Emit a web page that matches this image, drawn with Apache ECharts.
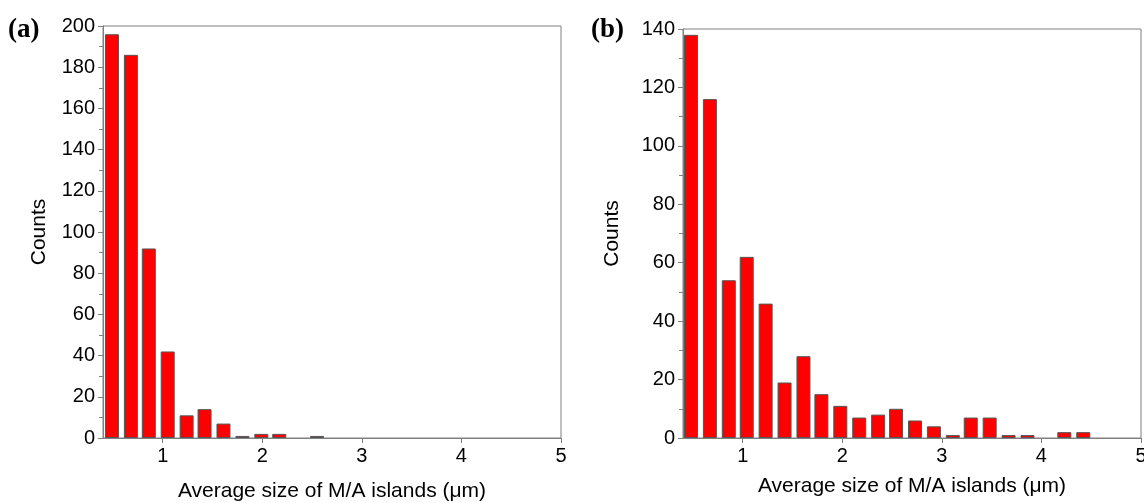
<!DOCTYPE html>
<html>
<head>
<meta charset="utf-8">
<script src="https://cdn.jsdelivr.net/npm/echarts@6/dist/echarts.min.js"></script>
<style>
html,body{margin:0;padding:0;background:#fff;}
#chart{width:1144px;height:503px;}
</style>
</head>
<body>
<div id="chart"></div>
<script>
// Bin centres (µm)
const binCentersA = [0.49, 0.68, 0.86, 1.05, 1.24, 1.42, 1.61, 1.80, 1.99, 2.17, 2.36, 2.55];
const countsA     = [196, 186, 92, 42, 11, 14, 7, 1, 2, 2, 0, 1];
const binCentersB = [0.48, 0.67, 0.86, 1.04, 1.23, 1.42, 1.61, 1.79, 1.98, 2.17, 2.36, 2.54, 2.73, 2.92, 3.11, 3.29, 3.48, 3.67, 3.86, 4.04, 4.23, 4.42];
const countsB     = [138, 116, 54, 62, 46, 19, 28, 15, 11, 7, 8, 10, 6, 4, 1, 7, 7, 1, 1, 0, 2, 2];
const xTickValues = [1, 2, 3, 4, 5];
const xTitle = 'Average size of M/A islands (μm)';
const yTitle = 'Counts';
const panelLabels = ['(a)', '(b)'];

const FONT = 'Liberation Sans, Arial, sans-serif';
const AXIS = '#808080';

// empty bins (count 0) are drawn as no bar at all
function pairs(xs, ys){ return xs.map((x,i)=> ys[i] === 0 ? [x, null] : [x, ys[i]]); }

function xAxisCfg(gridIndex, gap){
  return {
    type:'value', gridIndex, min:0.4, max:5,
    name:xTitle, nameLocation:'middle', nameGap:gap,
    nameTextStyle:{fontFamily:FONT, fontSize:21, color:'#000'},
    axisLine:{show:true, lineStyle:{color:AXIS, width:1}},
    axisTick:{show:true, length:5, customValues:xTickValues, lineStyle:{color:AXIS}},
    axisLabel:{customValues:xTickValues, fontFamily:FONT, fontSize:20, color:'#000', margin:8},
    splitLine:{show:false}
  };
}
function yAxisCfg(gridIndex, max, gap){
  return {
    type:'value', gridIndex, min:0, max:max, interval:20,
    name:yTitle, nameLocation:'middle', nameGap:gap,
    nameTextStyle:{fontFamily:FONT, fontSize:21, color:'#000'},
    axisLine:{show:true, lineStyle:{color:AXIS, width:1}},
    axisTick:{show:true, length:5, lineStyle:{color:AXIS}},
    minorTick:{show:true, splitNumber:2, length:4, lineStyle:{color:AXIS}},
    axisLabel:{fontFamily:FONT, fontSize:20, color:'#000', margin:8},
    splitLine:{show:false}
  };
}
function barSeries(idx, xs, ys){
  return {
    type:'bar', xAxisIndex:idx, yAxisIndex:idx,
    data:pairs(xs, ys), barWidth:14,
    itemStyle:{color:'#ff0000', borderColor:'#555555', borderWidth:1},
    silent:true
  };
}

const chart = echarts.init(document.getElementById('chart'), null, {renderer:'canvas'});
chart.setOption({
  animation:false,
  backgroundColor:'#fff',
  grid:[
    {left:103, top:26, width:458, height:412, show:true, borderColor:AXIS, borderWidth:1, backgroundColor:'transparent', outerBoundsMode:'none', containLabel:false},
    {left:683, top:29, width:458, height:409, show:true, borderColor:AXIS, borderWidth:1, backgroundColor:'transparent', outerBoundsMode:'none', containLabel:false}
  ],
  xAxis:[xAxisCfg(0, 43), xAxisCfg(1, 38)],
  yAxis:[yAxisCfg(0, 200, 53), yAxisCfg(1, 140, 60)],
  series:[barSeries(0, binCentersA, countsA), barSeries(1, binCentersB, countsB)],
  graphic:[
    {type:'text', left:8, top:17, style:{text:panelLabels[0], font:'bold 27px "Liberation Serif", "Times New Roman", serif', fill:'#000'}},
    {type:'text', left:591, top:17, style:{text:panelLabels[1], font:'bold 27px "Liberation Serif", "Times New Roman", serif', fill:'#000'}}
  ]
});
</script>
</body>
</html>
